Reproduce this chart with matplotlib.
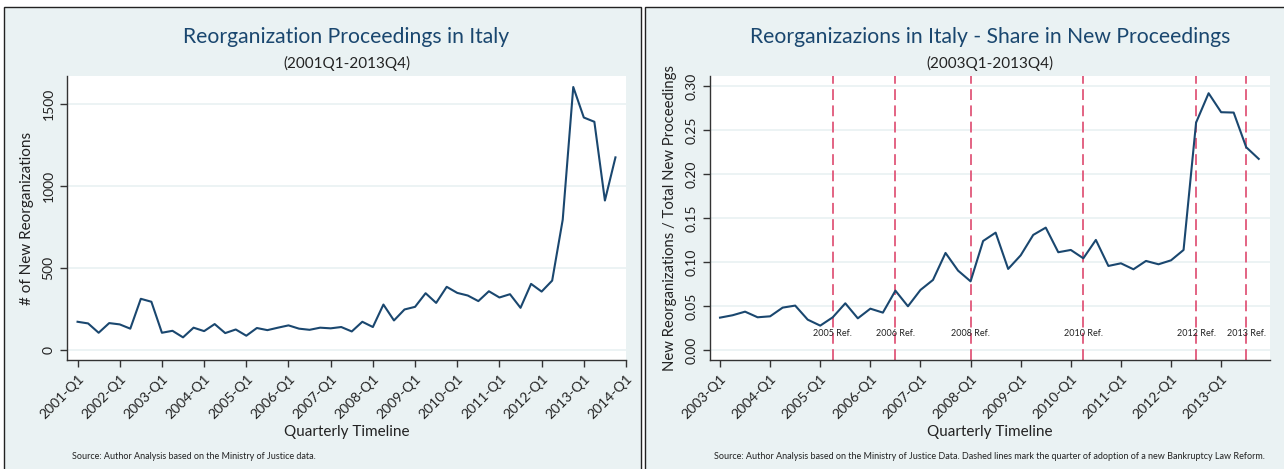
import matplotlib
matplotlib.use("Agg")
import matplotlib.pyplot as plt
from matplotlib.patches import Rectangle
import numpy as np

# ---------------- data ----------------
reorg_counts = [172, 162, 105, 164, 156, 130, 312, 294, 105, 117, 77, 136,
                115, 158, 103, 125, 87, 134, 121, 136, 150, 130, 123, 136,
                132, 140, 113, 172, 140, 277, 180, 247, 263, 346, 287, 385,
                348, 332, 298, 358, 320, 340, 257, 403, 356, 423, 794, 1603,
                1417, 1391, 911, 1174]
left_ticks = [f"{y}-Q1" for y in range(2001, 2015)]

share_values = [0.0368, 0.0395, 0.0436, 0.0372, 0.0383, 0.0482, 0.0505, 0.0345,
                0.0277, 0.0372, 0.0531, 0.0360, 0.0470, 0.0425, 0.0675, 0.0497,
                0.0683, 0.0797, 0.1104, 0.0903, 0.0781, 0.1240, 0.1335, 0.0922,
                0.1077, 0.1309, 0.1392, 0.1112, 0.1138, 0.1043, 0.1252, 0.0956,
                0.0986, 0.0918, 0.1013, 0.0975, 0.1020, 0.1138, 0.2587, 0.2921,
                0.2705, 0.2701, 0.2307, 0.2174]
right_ticks = [f"{y}-Q1" for y in range(2003, 2014)]

# reforms: quarter index (0 = 2003Q1) and labels
reform_quarters = [9, 14, 20, 29, 38, 42]
reform_labels = ["2005 Ref.", "2006 Ref.", "2008 Ref.", "2010 Ref.", "2012 Ref.", "2013 Ref."]

# ---------------- style ----------------
W, H = 1284, 469
BG = "#EAF2F3"
NAVY = "#1A476F"
REF = "#E0577A"
plt.rcParams['font.family'] = ['Lato', 'DejaVu Sans']

fig = plt.figure(figsize=(W / 100, H / 100), dpi=100)
fig.patch.set_facecolor("white")


def fx(px):
    return px / W


def fy(py):
    return 1 - py / H


# panel backgrounds
for x0, x1 in [(4, 641), (645, 1290)]:
    fig.patches.append(Rectangle((fx(x0), fy(480)), fx(x1) - fx(x0), fy(7) - fy(480),
                                 transform=fig.transFigure, facecolor=BG,
                                 edgecolor="#222222", lw=1.0, zorder=-10))


def style_axes(ax):
    ax.set_facecolor("white")
    for s in ["top", "right"]:
        ax.spines[s].set_visible(False)
    for s in ["left", "bottom"]:
        ax.spines[s].set_color("#333333")
        ax.spines[s].set_linewidth(1.0)
    ax.tick_params(axis="both", direction="out", length=5, width=1, color="#333333",
                   labelsize=10, labelcolor="#222222")
    ax.tick_params(axis="x", pad=4)
    ax.tick_params(axis="y", pad=4)
    ax.grid(axis="y", color=BG, lw=1.3)
    ax.set_axisbelow(True)
    for lab in ax.get_yticklabels():
        lab.set_rotation(90)
        lab.set_va("center")
    for lab in ax.get_xticklabels():
        lab.set_rotation(45)
        lab.set_ha("right")
        lab.set_va("top")
        lab.set_rotation_mode("anchor")


# ---------------- left panel ----------------
axL = fig.add_axes([fx(67), fy(360), fx(626) - fx(67), fy(76) - fy(360)])
axL.set_zorder(2)
xL = np.arange(len(reorg_counts))
axL.plot(xL, reorg_counts, color=NAVY, lw=1.5)
axL.set_xlim(-1, 52)
axL.set_ylim(-61, 1670)
axL.set_yticks([0, 500, 1000, 1500])
axL.set_xticks(np.arange(0, 53, 4))
axL.set_xticklabels(left_ticks)
style_axes(axL)
axL.set_ylabel("# of New Reorganizations", fontsize=11, color="#222222", labelpad=6)

cxL = fx((67 + 626) / 2)
fig.text(cxL, fy(37), "Reorganization Proceedings in Italy", ha="center", va="center",
         fontsize=15.2, color=NAVY)
fig.text(cxL, fy(63), "(2001Q1-2013Q4)", ha="center", va="center", fontsize=11, color="#222222")
fig.text(cxL, fy(432), "Quarterly Timeline", ha="center", va="center", fontsize=11, color="#222222")
fig.text(fx(72), fy(456), "Source: Author Analysis based on the Ministry of Justice data.",
         ha="left", va="center", fontsize=6.5, color="#222222")

# ---------------- right panel ----------------
axR = fig.add_axes([fx(710), fy(360), fx(1270) - fx(710), fy(76) - fy(360)])
axR.set_zorder(2)
xR = np.arange(len(share_values))
for q, lab in zip(reform_quarters, reform_labels):
    axR.axvline(q, color=REF, lw=1.3, dashes=(6, 3), zorder=2)
    axR.text(q, 0.019, lab, ha="center", va="center", fontsize=6.5, color="#222222", zorder=4)
axR.plot(xR, share_values, color=NAVY, lw=1.5, zorder=3)
axR.set_xlim(-0.8, 43.9)
axR.set_ylim(-0.0114, 0.3117)
axR.set_yticks([0, 0.05, 0.10, 0.15, 0.20, 0.25, 0.30])
axR.set_yticklabels(["0.00", "0.05", "0.10", "0.15", "0.20", "0.25", "0.30"])
axR.set_xticks(np.arange(0, 41, 4))
axR.set_xticklabels(right_ticks)
style_axes(axR)
axR.set_ylabel("New Reorganizations / Total New Proceedings", fontsize=10.7, color="#222222", labelpad=6)

cxR = fx((710 + 1270) / 2)
fig.text(cxR, fy(37), "Reorganizazions in Italy - Share in New Proceedings", ha="center", va="center",
         fontsize=15.2, color=NAVY)
fig.text(cxR, fy(63), "(2003Q1-2013Q4)", ha="center", va="center", fontsize=11, color="#222222")
fig.text(cxR, fy(432), "Quarterly Timeline", ha="center", va="center", fontsize=11, color="#222222")
fig.text(fx(714), fy(456),
         "Source: Author Analysis based on the Ministry of Justice Data. Dashed lines mark the quarter of adoption of a new Bankruptcy Law Reform.",
         ha="left", va="center", fontsize=6.5, color="#222222")

fig.savefig("out.png", dpi=100, facecolor=fig.get_facecolor())
